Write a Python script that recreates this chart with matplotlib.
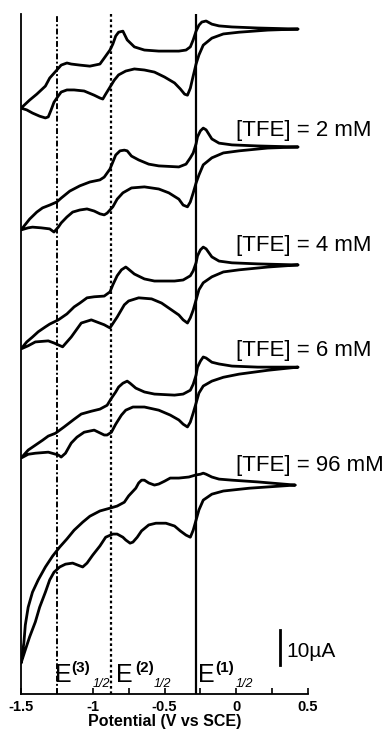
import matplotlib
matplotlib.use('Agg')
import matplotlib.pyplot as plt
from matplotlib.ticker import FixedLocator, MultipleLocator

plt.rcParams['font.family'] = ['Liberation Sans', 'DejaVu Sans']
plt.rcParams['axes.unicode_minus'] = False

# TFE concentration of each trace, top to bottom (mM); first trace has no label
tfe_conc = [0, 2, 4, 6, 96]
# vertical stacking offset of each trace (uA)
trace_offset = [190.0, 156.3, 122.6, 93.4, 59.7]

# half-wave potentials (V vs SCE) and their line styles
e_half = [-0.28, -0.87, -1.25]
e_half_names = ['1', '2', '3']

# --- 0 mM: negative-going (upper) and return (lower) branches ---
pot_fwd_0 = [0.43, 0.15, -0.03, -0.12, -0.17, -0.21, -0.24, -0.26, -0.28, -0.30,
             -0.32, -0.35, -0.40, -0.54, -0.64, -0.71, -0.76, -0.79, -0.82, -0.84,
             -0.86, -0.88, -0.92, -0.95, -1.02, -1.09, -1.15, -1.18, -1.22, -1.25,
             -1.30, -1.33, -1.39, -1.44, -1.50]
cur_fwd_0 = [0.0, 0.3, 0.6, 0.9, 1.4, 2.3, 2.0, 1.1, -0.6, -3.1,
             -5.1, -6.0, -6.3, -6.3, -6.0, -5.1, -3.1, -0.6, -0.9, -2.0,
             -4.3, -6.0, -8.3, -10.0, -10.6, -10.3, -10.0, -9.7, -10.3, -11.7,
             -14.0, -16.3, -18.6, -20.3, -22.6]
pot_rev_0 = [-1.50, -1.46, -1.42, -1.37, -1.33, -1.31, -1.29, -1.27, -1.24, -1.22,
             -1.18, -1.13, -1.06, -0.99, -0.95, -0.93, -0.91, -0.88, -0.85, -0.82,
             -0.77, -0.71, -0.64, -0.57, -0.50, -0.43, -0.39, -0.36, -0.34, -0.32,
             -0.30, -0.28, -0.26, -0.23, -0.17, -0.09, 0.02, 0.22, 0.43]
cur_rev_0 = [-22.6, -23.1, -24.0, -24.9, -25.4, -25.1, -23.1, -20.9, -19.1, -18.0,
             -17.4, -17.4, -17.7, -18.9, -19.7, -20.0, -18.6, -16.6, -14.6, -13.1,
             -12.0, -11.4, -11.7, -12.3, -13.7, -15.4, -17.1, -18.6, -18.9, -16.9,
             -13.4, -10.0, -7.4, -4.6, -2.6, -1.4, -0.9, -0.3, 0.0]

# --- 2 mM ---
pot_fwd_2 = [0.43, 0.15, -0.03, -0.12, -0.17, -0.21, -0.23, -0.25, -0.27, -0.28,
             -0.30, -0.32, -0.35, -0.40, -0.54, -0.61, -0.68, -0.73, -0.76, -0.78,
             -0.81, -0.84, -0.86, -0.88, -0.92, -0.95, -1.02, -1.09, -1.16, -1.22,
             -1.25, -1.30, -1.35, -1.39, -1.44, -1.50]
cur_fwd_2 = [0.0, 0.3, 0.6, 1.1, 2.3, 4.9, 5.4, 4.6, 2.9, 0.9,
             -1.7, -3.1, -4.9, -5.7, -5.4, -4.9, -3.7, -2.6, -1.1, -0.9,
             -1.1, -2.3, -4.3, -6.3, -8.6, -9.4, -10.0, -11.1, -12.6, -14.6,
             -15.7, -16.6, -17.4, -18.6, -20.6, -23.7]
pot_rev_2 = [-1.50, -1.45, -1.42, -1.36, -1.30, -1.27, -1.24, -1.22, -1.18, -1.14,
             -1.09, -1.04, -0.99, -0.95, -0.92, -0.90, -0.86, -0.83, -0.79, -0.73,
             -0.64, -0.54, -0.47, -0.40, -0.37, -0.34, -0.32, -0.30, -0.28, -0.26,
             -0.23, -0.17, -0.09, 0.02, 0.22, 0.43]
cur_rev_2 = [-23.7, -23.1, -22.9, -23.1, -23.4, -24.3, -22.9, -21.7, -20.0, -18.6,
             -18.0, -17.7, -18.3, -19.1, -19.4, -18.9, -17.1, -14.9, -13.1, -11.7,
             -11.4, -12.0, -13.1, -14.9, -16.6, -17.1, -15.7, -13.1, -10.3, -8.0,
             -5.1, -3.1, -1.7, -1.1, -0.3, 0.0]

# --- 4 mM ---
pot_fwd_4 = [0.43, 0.15, -0.03, -0.12, -0.17, -0.21, -0.23, -0.25, -0.27, -0.28,
             -0.30, -0.32, -0.37, -0.43, -0.57, -0.64, -0.71, -0.76, -0.77, -0.80,
             -0.83, -0.86, -0.88, -0.92, -0.99, -1.04, -1.09, -1.13, -1.18, -1.24,
             -1.30, -1.33, -1.38, -1.42, -1.46, -1.50]
cur_fwd_4 = [0.0, 0.3, 0.6, 1.1, 2.3, 4.6, 5.1, 4.3, 2.6, 0.6,
             -1.7, -3.1, -4.3, -4.6, -4.6, -4.0, -2.6, -0.9, -0.6, -1.4,
             -3.1, -5.7, -7.7, -8.9, -9.1, -9.4, -10.9, -12.0, -14.0, -15.7,
             -16.9, -17.7, -19.1, -20.6, -22.0, -24.0]
pot_rev_4 = [-1.50, -1.45, -1.40, -1.31, -1.27, -1.21, -1.15, -1.08, -1.01, -0.92,
             -0.88, -0.83, -0.78, -0.75, -0.68, -0.59, -0.52, -0.46, -0.40, -0.37,
             -0.34, -0.32, -0.30, -0.28, -0.26, -0.23, -0.17, -0.09, 0.02, 0.22,
             0.43]
cur_rev_4 = [-24.0, -23.1, -22.0, -21.7, -22.3, -23.4, -20.6, -16.6, -15.7, -17.1,
             -18.0, -14.9, -11.4, -10.3, -9.4, -9.7, -10.9, -12.6, -14.3, -15.7,
             -16.6, -15.1, -12.9, -10.0, -7.1, -5.1, -3.4, -2.0, -1.4, -0.6,
             0.0]

# --- 6 mM ---
pot_fwd_6 = [0.43, 0.15, -0.03, -0.12, -0.17, -0.21, -0.23, -0.25, -0.27, -0.28,
             -0.30, -0.32, -0.37, -0.43, -0.57, -0.64, -0.70, -0.74, -0.76, -0.79,
             -0.82, -0.84, -0.87, -0.90, -0.95, -1.01, -1.08, -1.13, -1.20, -1.26,
             -1.31, -1.35, -1.40, -1.45, -1.50]
cur_fwd_6 = [0.0, 0.0, 0.3, 0.9, 1.4, 2.6, 2.9, 1.7, 0.0, -2.3,
             -4.9, -6.6, -7.7, -8.0, -7.7, -7.1, -6.0, -4.6, -4.0, -4.6,
             -5.7, -7.1, -8.9, -10.9, -12.0, -12.6, -13.4, -14.9, -17.1, -18.9,
             -19.7, -20.9, -22.3, -23.7, -26.0]
pot_rev_6 = [-1.50, -1.45, -1.40, -1.31, -1.24, -1.22, -1.19, -1.15, -1.11, -1.06,
             -0.99, -0.92, -0.90, -0.87, -0.84, -0.80, -0.77, -0.72, -0.64, -0.54,
             -0.46, -0.40, -0.37, -0.34, -0.32, -0.30, -0.28, -0.26, -0.23, -0.17,
             -0.09, 0.02, 0.22, 0.43]
cur_rev_6 = [-26.0, -24.9, -24.6, -24.3, -25.1, -25.7, -24.6, -21.7, -20.0, -18.6,
             -18.0, -19.4, -19.4, -18.6, -16.3, -13.7, -12.3, -11.4, -11.4, -12.3,
             -13.7, -15.1, -16.3, -17.1, -15.7, -13.1, -10.3, -7.4, -5.4, -4.0,
             -2.9, -2.0, -0.9, 0.0]

# --- 96 mM ---
pot_fwd_96 = [0.41, 0.15, -0.03, -0.12, -0.17, -0.21, -0.23, -0.25, -0.28, -0.33,
              -0.40, -0.46, -0.50, -0.54, -0.57, -0.61, -0.64, -0.66, -0.68, -0.70,
              -0.75, -0.78, -0.83, -0.88, -0.95, -1.02, -1.07, -1.13, -1.18, -1.23,
              -1.28, -1.33, -1.38, -1.42, -1.45, -1.47, -1.48, -1.50]
cur_fwd_96 = [0.0, 0.9, 1.4, 1.7, 2.3, 3.1, 3.4, 3.1, 2.9, 2.3,
              2.0, 2.0, 1.1, 0.3, 0.0, 0.6, 1.4, 1.4, 0.6, -0.9,
              -3.1, -4.9, -6.0, -6.6, -7.4, -8.9, -10.6, -12.9, -15.4, -17.7,
              -20.3, -23.4, -27.1, -30.6, -34.9, -40.0, -45.1, -50.9]
pot_rev_96 = [-1.50, -1.47, -1.44, -1.40, -1.37, -1.33, -1.30, -1.27, -1.23, -1.19,
              -1.14, -1.09, -1.07, -1.04, -1.00, -0.95, -0.91, -0.86, -0.83, -0.79,
              -0.77, -0.74, -0.72, -0.69, -0.66, -0.61, -0.56, -0.49, -0.43, -0.39,
              -0.35, -0.32, -0.30, -0.28, -0.26, -0.23, -0.17, -0.09, 0.09, 0.41]
cur_rev_96 = [-50.9, -47.1, -43.4, -39.1, -34.9, -30.6, -27.1, -24.9, -23.4, -22.6,
              -22.3, -23.1, -23.4, -22.3, -20.0, -17.4, -14.9, -14.0, -14.0, -14.9,
              -15.7, -16.6, -16.3, -14.9, -13.1, -11.4, -10.9, -10.9, -11.7, -13.1,
              -14.3, -14.9, -12.9, -10.0, -7.1, -4.3, -2.6, -1.7, -0.9, 0.0]

scans = [
    (pot_fwd_0, cur_fwd_0, pot_rev_0, cur_rev_0),
    (pot_fwd_2, cur_fwd_2, pot_rev_2, cur_rev_2),
    (pot_fwd_4, cur_fwd_4, pot_rev_4, cur_rev_4),
    (pot_fwd_6, cur_fwd_6, pot_rev_6, cur_rev_6),
    (pot_fwd_96, cur_fwd_96, pot_rev_96, cur_rev_96),
]

# label baseline (uA, same scale as the traces) for each labelled trace
label_y = [None, 159.4, 126.6, 96.6, 63.7]

# scale bar size (uA)
scale_bar = 10


def main():
    fig = plt.figure(figsize=(3.88, 7.29), dpi=100)
    ax = fig.add_axes([21 / 388, 1 - 694 / 729, 287 / 388, 680 / 729])

    for (pf, cf, pr, cr), off in zip(scans, trace_offset):
        ax.plot(pf + pr, [c + off for c in cf + cr], color='black',
                lw=2.0, solid_joinstyle='round', solid_capstyle='round')

    # half-wave potential markers
    ax.axvline(e_half[0], color='black', lw=1.6)
    ax.axvline(e_half[1], color='black', lw=1.6, ls=(0, (1.2, 1.2)))
    ax.axvline(e_half[2], color='black', lw=1.4, ls=(0, (3, 1.2, 1, 1.2)))

    # E labels: E, bold superscript, italic subscript
    e_text_x = [-0.268, -0.836, -1.265]
    sup_x = [-0.144, -0.704, -1.147]
    sub_x = [-0.005, -0.573, -1.002]
    for name, ex, sx, bx in zip(e_half_names, e_text_x, sup_x, sub_x):
        ax.text(ex, 3.4, 'E', fontsize=18, va='baseline', ha='left')
        ax.text(sx, 6.3, '(' + name + ')', fontsize=11, fontweight='bold',
                va='baseline', ha='left')
        ax.text(bx, 2.0, '1/2', fontsize=9, fontstyle='italic',
                va='baseline', ha='left')

    for conc, ly in zip(tfe_conc, label_y):
        if ly is None:
            continue
        ax.text(0.0, ly, '[TFE] = {} mM'.format(conc), fontsize=16,
                va='baseline', ha='left', clip_on=False)

    # scale bar
    ax.plot([0.306, 0.306], [8.3, 8.3 + scale_bar], color='black', lw=2.0,
            clip_on=False)
    ax.text(0.348, 10.6, '{}µA'.format(scale_bar), fontsize=15,
            va='baseline', ha='left')

    ax.set_xlim(-1.5, 0.5)
    ax.set_ylim(0, 194.3)
    ax.spines['top'].set_visible(False)
    ax.spines['right'].set_visible(False)
    ax.spines['left'].set_linewidth(1.3)
    ax.spines['bottom'].set_linewidth(1.3)
    ax.set_yticks([])
    ax.xaxis.set_major_locator(FixedLocator([-1.5, -1, -0.5, 0, 0.5]))
    ax.xaxis.set_minor_locator(MultipleLocator(0.25))
    ax.set_xticklabels(['-1.5', '-1', '-0.5', '0', '0.5'], fontsize=10.5,
                       fontweight='bold')
    ax.tick_params(axis='x', which='both', direction='in', length=4, width=1.2,
                   pad=4)
    ax.set_xlabel('Potential (V vs SCE)', fontsize=11.5, fontweight='bold',
                  labelpad=0)

    fig.savefig('out.png', dpi=100)


if __name__ == '__main__':
    main()
